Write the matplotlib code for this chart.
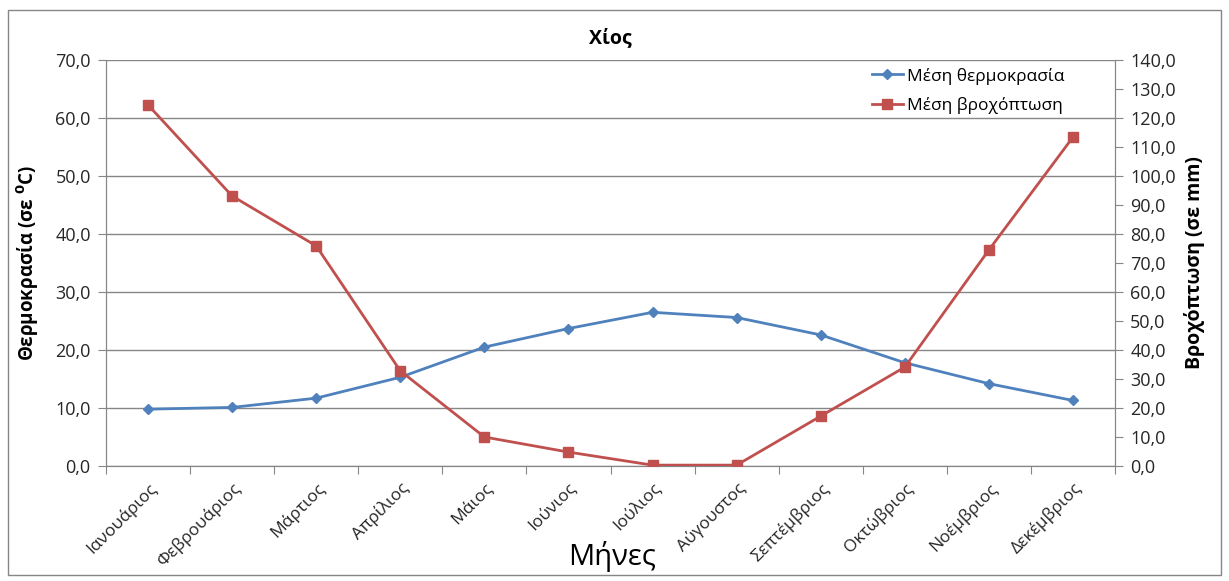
import matplotlib
matplotlib.use("Agg")
import matplotlib.pyplot as plt
from matplotlib.patches import Rectangle
from matplotlib.ticker import MultipleLocator, FuncFormatter

plt.rcParams['font.family'] = ['Open Sans', 'DejaVu Sans']

# Data
months = ["Ιανουάριος", "Φεβρουάριος", "Μάρτιος", "Απρίλιος", "Μάιος", "Ιούνιος",
          "Ιούλιος", "Αύγουστος", "Σεπτέμβριος", "Οκτώβριος", "Νοέμβριος", "Δεκέμβριος"]
temperature = [9.8, 10.1, 11.7, 15.3, 20.5, 23.7, 26.5, 25.6, 22.6, 17.8, 14.2, 11.3]
rainfall = [124.5, 93.1, 75.9, 32.8, 10.0, 4.8, 0.3, 0.3, 17.2, 34.1, 74.5, 113.4]

blue = "#4F81BD"
red = "#C0504D"
grey = "#868686"
txt = "#262626"

fig = plt.figure(figsize=(12.29, 5.81), dpi=100)
fig.patches.append(Rectangle((8 / 1229, 1 - 575 / 581), 1213 / 1229, 565 / 581,
                             transform=fig.transFigure, fill=False,
                             edgecolor=grey, linewidth=1))
ax = fig.add_axes([106 / 1229, 1 - 466 / 581, 1009 / 1229, 406 / 581])
ax2 = ax.twinx()

x = list(range(len(months)))
l1, = ax.plot(x, temperature, color=blue, lw=2, marker="D", markersize=5,
              label="Μέση θερμοκρασία", zorder=3)
l2, = ax2.plot(x, rainfall, color=red, lw=2, marker="s", markersize=7,
               label="Μέση βροχόπτωση", zorder=3)

fmt = FuncFormatter(lambda v, p: f"{v:.1f}".replace(".", ","))

ax.set_xlim(-0.5, len(months) - 0.5)
ax.set_ylim(0, 70)
ax.yaxis.set_major_locator(MultipleLocator(10))
ax.yaxis.set_major_formatter(fmt)
ax.grid(axis="y", color=grey, lw=1)
ax.set_axisbelow(True)

ax2.set_ylim(0, 140)
ax2.yaxis.set_major_locator(MultipleLocator(10))
ax2.yaxis.set_major_formatter(fmt)

ax.set_xticks([i - 0.5 for i in range(len(months) + 1)])
ax.set_xticklabels([])
ax.set_xticks(x, minor=True)
ax.set_xticklabels(months, minor=True, rotation=45, ha="right",
                   rotation_mode="anchor", fontsize=12.5, color=txt)
ax.tick_params(axis="x", which="minor", length=0, pad=10)
ax.tick_params(axis="x", which="major", length=6, color=grey, direction="out")
ax.tick_params(axis="y", length=6, color=grey, labelsize=13, labelcolor=txt, pad=5)
ax2.tick_params(axis="y", length=6, color=grey, labelsize=13, labelcolor=txt, pad=5)

for a in (ax, ax2):
    a.spines["top"].set_visible(False)
    for s in ("left", "right", "bottom"):
        a.spines[s].set_color(grey)

ax.set_title("Χίος", fontsize=14, fontweight="bold", pad=12, color="black")
fig.text(612 / 1229, 1 - 557 / 581, "Μήνες", fontsize=21, ha="center",
         va="center", color="black")
ax.set_ylabel(r"Θερμοκρασία (σε $^{\mathbf{0}}$C)", fontsize=13.5,
              fontweight="bold", labelpad=10, color="black")
ax2.set_ylabel("Βροχόπτωση (σε mm)", fontsize=14, fontweight="bold",
               labelpad=6, color="black")

ax.legend(handles=[l1, l2], loc="upper right", bbox_to_anchor=(0.965, 1.02),
          frameon=False, fontsize=12.5, handlelength=1.8, handletextpad=0.2,
          labelspacing=0.7)

fig.savefig("out.png", dpi=100)
